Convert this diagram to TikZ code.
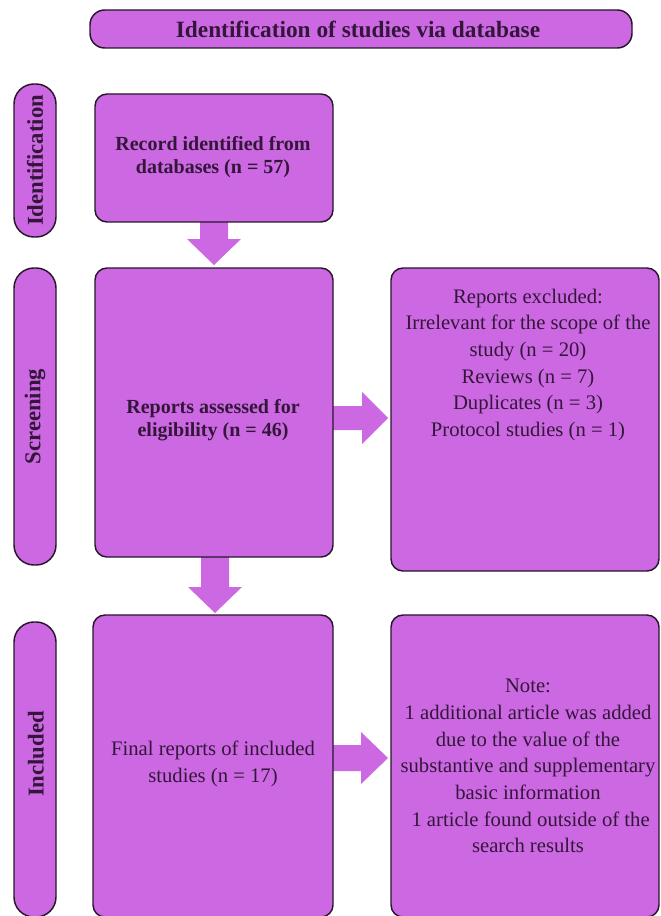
\documentclass[tikz,border=0pt]{standalone}
\usepackage{fontspec}
\setmainfont{Liberation Serif}
\usetikzlibrary{calc}
\definecolor{boxfill}{RGB}{203,104,226}
\definecolor{boxline}{RGB}{40,22,44}
\definecolor{txt}{RGB}{52,22,58}
\begin{document}
\begin{tikzpicture}[x=0.75pt,y=-0.75pt,
  box/.style={draw=boxline, fill=boxfill, line width=1.1pt, rounded corners=9pt, inner sep=0pt},
  lbl/.style={draw=boxline, fill=boxfill, line width=1.1pt, rounded corners=15pt, inner sep=0pt},
  boldtxt/.style={text=txt, align=center, font=\fontsize{15}{17.5}\selectfont\bfseries},
  bigtxt/.style={text=txt, align=center, font=\fontsize{15.5}{20}\selectfont},
  lbltxt/.style={text=txt, font=\fontsize{17}{18}\selectfont\bfseries, rotate=90},
  blockarrow/.style={fill=boxfill}
]
\clip (0,0) rectangle (660,916);
\fill[white] (0,0) rectangle (660,916);

% title
\node[box, rounded corners=11pt, minimum width=406.5pt, minimum height=28.5pt] (title) at (361,29) {};
\node[text=txt, font=\fontsize{17.5}{18}\selectfont\bfseries] (titletext) at (358,29) {Identification of studies via database};

% phase labels
\node[lbl, minimum width=31.5pt, minimum height=114.75pt] (lid) at (35,160.5) {};
\node[lbltxt] (lidt) at (lid.center) {Identification};
\node[lbl, minimum width=31.5pt, minimum height=222.75pt] (lsc) at (35,416.5) {};
\node[lbltxt] (lsct) at (lsc.center) {Screening};
\node[lbl, minimum width=31.5pt, minimum height=221.25pt] (lin) at (35,769.5) {};
\node[lbltxt] (lint) at (36,754) {Included};

% arrows (drawn under boxes)
\coordinate (a1s) at (214,222);
\coordinate (a1t) at (214,265);
\fill[blockarrow] ($(a1s)+(-14,0)$) -- ($(a1s)+(14,0)$) -- ($(a1s)+(14,17)$) -- ($(a1s)+(27,17)$)
  -- (a1t) -- ($(a1s)+(-27,17)$) -- ($(a1s)+(-14,17)$) -- cycle;
\coordinate (a3s) at (215,557);
\coordinate (a3t) at (215,613);
\fill[blockarrow] ($(a3s)+(-14,0)$) -- ($(a3s)+(14,0)$) -- ($(a3s)+(14,30)$) -- ($(a3s)+(27,30)$)
  -- (a3t) -- ($(a3s)+(-27,30)$) -- ($(a3s)+(-14,30)$) -- cycle;
\coordinate (a2s) at (333,418);
\coordinate (a2t) at (388,418);
\fill[blockarrow] ($(a2s)+(0,-12)$) -- ($(a2s)+(29,-12)$) -- ($(a2s)+(29,-26)$) -- (a2t)
  -- ($(a2s)+(29,26)$) -- ($(a2s)+(29,12)$) -- ($(a2s)+(0,12)$) -- cycle;
\coordinate (a4s) at (333,758);
\coordinate (a4t) at (388,758);
\fill[blockarrow] ($(a4s)+(0,-13)$) -- ($(a4s)+(28,-13)$) -- ($(a4s)+(28,-26)$) -- (a4t)
  -- ($(a4s)+(28,26)$) -- ($(a4s)+(28,13)$) -- ($(a4s)+(0,13)$) -- cycle;

% boxes
\node[box, minimum width=178.5pt, minimum height=96pt] (b1) at (214,158) {};
\node[boldtxt] (b1t) at (213,157) {Record identified from\\databases (n = 57)};

\node[box, minimum width=178.5pt, minimum height=216.75pt] (b2) at (214,412.5) {};
\node[boldtxt] (b2t) at (213,420) {Reports assessed for\\eligibility (n = 46)};

\node[box, minimum width=201pt, minimum height=227.25pt] (b3) at (525,419.5) {};
\node[bigtxt] (b3t) at (528,365) {Reports excluded:\\Irrelevant for the scope of the\\study (n = 20)\\Reviews (n = 7)\\Duplicates (n = 3)\\Protocol studies (n = 1)};

\node[box, minimum width=180pt, minimum height=226.5pt] (b4) at (213,766) {};
\node[bigtxt] (b4t) at (213,764) {Final reports of included\\studies (n = 17)};

\node[box, minimum width=201pt, minimum height=226.5pt] (b5) at (525,766) {};
\node[bigtxt] (b5t) at (528,766) {Note:\\1 additional article was added\\due to the value of the\\substantive and supplementary\\basic information\\\ 1 article found outside of the\\search results};
\end{tikzpicture}
\end{document}
